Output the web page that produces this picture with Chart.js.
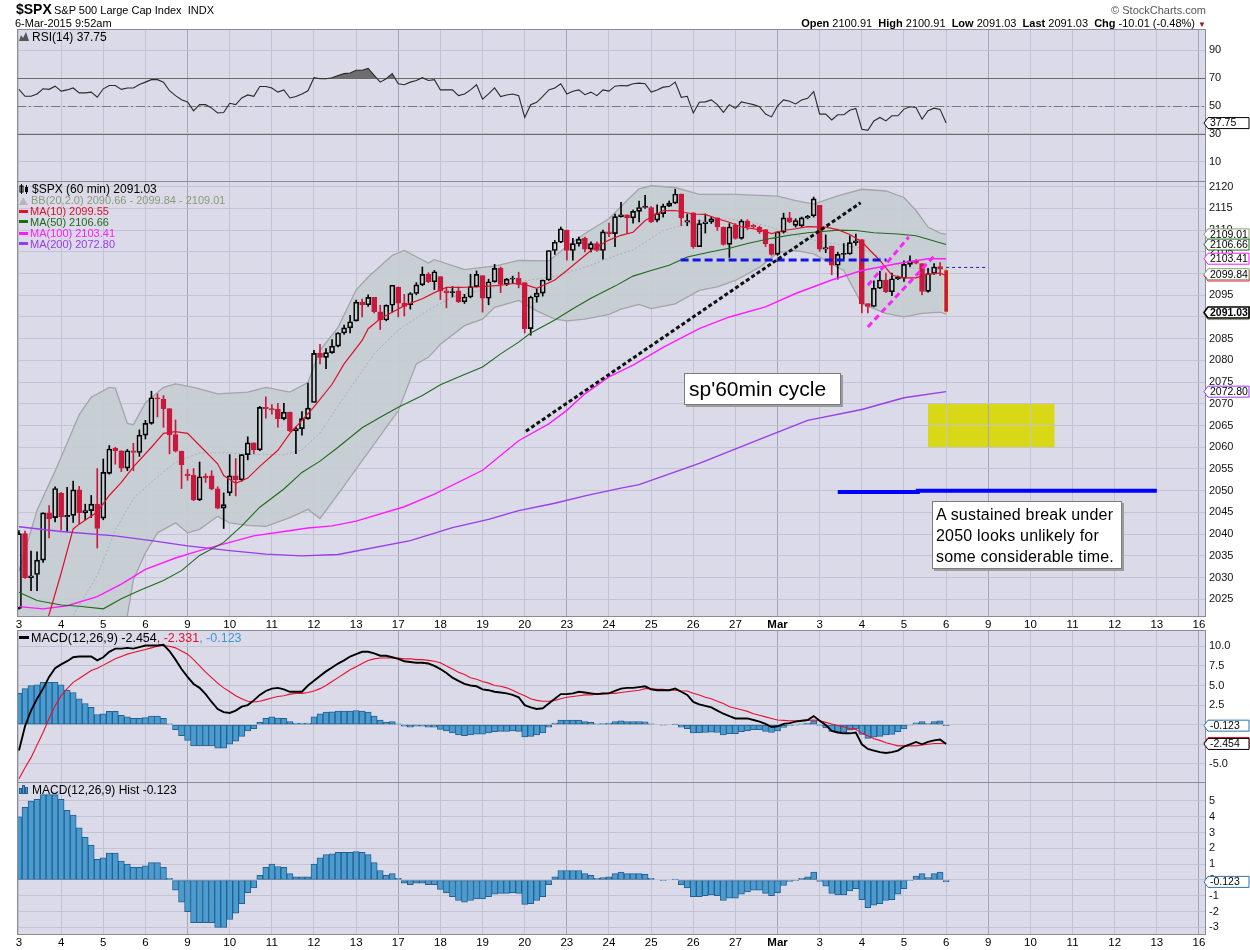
<!DOCTYPE html>
<html>
<head>
<meta charset="utf-8">
<title>$SPX 60 min</title>
<script src="https://cdn.jsdelivr.net/npm/chart.js@4.4.1/dist/chart.umd.min.js"></script>
<style>
  html, body { margin: 0; padding: 0; background: #fff; }
  body { width: 1250px; height: 950px; position: relative; overflow: hidden;
         font-family: "Liberation Sans", Arial, Helvetica, sans-serif; color: #000; }
  canvas { position: absolute; left: 0; top: 0; }
  .t { position: absolute; white-space: nowrap; font-size: 11px; line-height: 13px; z-index: 5; }
  .lg { position: absolute; white-space: nowrap; font-size: 11px; line-height: 12px; z-index: 5; left: 19px; }
  .lg i { display: inline-block; width: 9px; height: 3px; vertical-align: middle; margin-right: 2px; position: relative; top: -1px; }
  .lg svg { vertical-align: middle; margin-right: 3px; position: relative; top: -1px; }
  .box { position: absolute; z-index: 6; background: #fff; border: 1px solid #7a7a7a;
         box-shadow: 2px 2px 0 #9c9c9c; box-sizing: border-box; white-space: nowrap; }
</style>
</head>
<body>
<canvas id="cRsi" width="1250" height="950"></canvas>
<canvas id="cPrice" width="1250" height="950"></canvas>
<canvas id="cMacd" width="1250" height="950"></canvas>
<canvas id="cHist" width="1250" height="950"></canvas>

<!-- header -->
<div class="t" style="left:16px;top:1px;font-size:14px;line-height:16px;font-weight:bold">$SPX</div>
<div class="t" style="left:54px;top:4px">S&amp;P 500 Large Cap Index&nbsp; INDX</div>
<div class="t" style="left:15px;top:17px">6-Mar-2015 9:52am</div>
<div class="t" style="right:44px;top:4px;color:#555">&copy; StockCharts.com</div>
<div class="t" style="right:44px;top:17px"><b>Open</b> 2100.91&nbsp; <b>High</b> 2100.91&nbsp; <b>Low</b> 2091.03&nbsp; <b>Last</b> 2091.03&nbsp; <b>Chg</b> -10.01 (-0.48%) <span style="color:#8b1a1a;font-size:8px">&#9660;</span></div>

<!-- panel legends -->
<div class="lg" style="top:30px;font-size:12px;line-height:14px"><svg width="10" height="9"><path d="M0 9 L2 3 L4 6 L7 0 L10 9 Z" fill="#555"/></svg>RSI(14) 37.75</div>
<div class="lg" style="top:182px;font-size:12px;line-height:14px"><svg width="10" height="10"><rect x="1" y="2" width="3" height="6" fill="none" stroke="#000"/><line x1="2.5" y1="0" x2="2.5" y2="10" stroke="#000"/><rect x="6" y="3" width="3" height="5" fill="#000"/><line x1="7.5" y1="1" x2="7.5" y2="10" stroke="#000"/></svg>$SPX (60 min) 2091.03</div>
<div class="lg" style="top:194px;color:#8c9a78"><svg width="9" height="9"><path d="M0 9 L4 1 L9 9 Z" fill="#b4b8bc"/></svg>BB(20,2.0) 2090.66 - 2099.84 - 2109.01</div>
<div class="lg" style="top:205px;color:#e0102a"><i style="background:#e0102a"></i>MA(10) 2099.55</div>
<div class="lg" style="top:215.5px;color:#1f6a1a"><i style="background:#1f6a1a"></i>MA(50) 2106.66</div>
<div class="lg" style="top:227px;color:#ff1aff"><i style="background:#ff1aff"></i>MA(100) 2103.41</div>
<div class="lg" style="top:237.5px;color:#9a3ceb"><i style="background:#9a3ceb"></i>MA(200) 2072.80</div>
<div class="lg" style="top:631px;font-size:12.5px;line-height:14px"><i style="background:#000;width:10px"></i>MACD(12,26,9) -2.454<span style="color:#e0102a">, -2.331</span><span style="color:#3d9ad6">, -0.123</span></div>
<div class="lg" style="top:782.5px;font-size:12px;line-height:14px"><svg width="10" height="10"><rect x="0.5" y="4.5" width="2" height="5" fill="#4c9bd0" stroke="#22618f" stroke-width="1"/><rect x="3.5" y="1.5" width="2" height="8" fill="#4c9bd0" stroke="#22618f" stroke-width="1"/><rect x="6.5" y="3.5" width="2" height="6" fill="#4c9bd0" stroke="#22618f" stroke-width="1"/></svg>MACD(12,26,9) Hist -0.123</div>

<!-- annotations -->
<div class="box" style="left:684px;top:373px;width:157px;height:32px;font-size:21px;line-height:30px;padding-left:4px">sp'60min cycle</div>
<div class="box" style="left:932px;top:501px;width:190px;height:68px;font-size:16px;line-height:21px;padding:2px 0 0 3px;letter-spacing:0.2px">A sustained break under<br>2050 looks unlikely for<br>some considerable time.</div>

<script>
// ---------- data (one bar per trading hour, Feb 3 2015 09:30 = bar 0) ----------
const dayLabels = ['3','4','5','6','9','10','11','12','13','17','18','19','20','23','24','25','26','27',
                   'Mar','3','4','5','6','9','10','11','12','13','16'];
const barsPerDay = 7;
const weekStarts = [4, 9, 13, 18, 23, 28];

const opens = [
  2022.9, 2040.1, 2030.0, 2030.7, 2034.0, 2044.9, 2043.8,
  2049.4, 2044.0, 2044.3, 2050.2, 2044.9, 2045.4, 2046.9,
  2043.7, 2054.0, 2059.8, 2059.2, 2055.2, 2059.2, 2058.8,
  2062.8, 2065.5, 2071.4, 2071.1, 2068.9, 2062.9, 2059.1,
  2053.8, 2053.6, 2047.9, 2053.3, 2053.4, 2050.4, 2046.0,
  2049.5, 2053.4, 2052.5, 2058.3, 2061.0, 2059.4, 2069.2,
  2068.9, 2068.8, 2066.6, 2068.1, 2063.8, 2064.3, 2066.6,
  2070.3, 2081.6, 2080.7, 2081.8, 2083.3, 2086.3, 2087.5,
  2089.1, 2093.4, 2092.8, 2094.5, 2091.2, 2089.3, 2092.7,
  2096.9, 2093.2, 2092.8, 2095.4, 2097.4, 2099.8, 2098.1,
  2099.3, 2096.0, 2095.6, 2096.0, 2093.5, 2094.6, 2097.0,
  2099.5, 2094.3, 2098.1, 2101.2, 2097.5, 2098.7, 2098.9,
  2097.9, 2087.3, 2094.6, 2095.5, 2098.5, 2105.3, 2107.2,
  2110.0, 2105.3, 2106.9, 2108.1, 2105.6, 2106.9, 2105.3,
  2109.6, 2109.2, 2113.1, 2113.5, 2112.8, 2114.3, 2115.2,
  2115.2, 2112.3, 2113.8, 2115.5, 2116.2, 2118.3, 2111.8,
  2114.0, 2106.2, 2111.5, 2111.9, 2112.8, 2110.7, 2106.7,
  2111.1, 2108.1, 2112.1, 2111.1, 2110.7, 2110.1, 2106.8,
  2104.4, 2109.5, 2112.8, 2111.1, 2111.0, 2112.8, 2113.3,
  2115.7, 2105.6, 2106.3, 2101.9, 2104.4, 2104.5, 2107.1,
  2107.8, 2093.1, 2092.4, 2096.6, 2098.5, 2095.8, 2098.8,
  2098.9, 2102.1, 2102.9, 2102.3, 2095.9, 2100.0, 2101.6,
  2100.91
];
const highs = [
  2040.8, 2040.7, 2036.1, 2035.9, 2044.9, 2046.6, 2050.9,
  2049.6, 2050.8, 2052.2, 2051.0, 2046.9, 2048.9, 2055.1,
  2057.3, 2060.4, 2060.0, 2059.2, 2059.5, 2060.9, 2064.0,
  2066.2, 2072.9, 2072.3, 2071.9, 2068.9, 2066.3, 2059.1,
  2054.9, 2055.1, 2056.6, 2053.9, 2054.6, 2050.9, 2049.5,
  2058.3, 2057.4, 2058.3, 2062.4, 2061.0, 2069.4, 2071.6,
  2069.8, 2070.1, 2070.1, 2068.1, 2064.7, 2068.2, 2074.8,
  2082.3, 2083.7, 2082.7, 2084.8, 2086.4, 2088.1, 2090.4,
  2093.9, 2094.1, 2095.1, 2094.5, 2092.7, 2092.8, 2097.3,
  2096.9, 2095.2, 2095.6, 2097.9, 2101.5, 2100.2, 2100.7,
  2099.3, 2096.8, 2097.0, 2096.9, 2095.2, 2099.8, 2100.6,
  2099.5, 2098.7, 2102.1, 2101.5, 2098.9, 2099.4, 2100.3,
  2097.9, 2094.8, 2096.4, 2098.5, 2105.3, 2107.6, 2110.7,
  2110.0, 2108.1, 2108.4, 2108.4, 2107.3, 2107.3, 2110.0,
  2111.6, 2113.7, 2116.4, 2113.5, 2114.6, 2116.7, 2118.0,
  2115.4, 2115.8, 2116.0, 2116.7, 2119.4, 2118.3, 2113.7,
  2114.0, 2112.3, 2113.7, 2113.0, 2112.8, 2110.7, 2111.5,
  2111.5, 2112.4, 2112.4, 2111.3, 2110.9, 2110.1, 2106.8,
  2109.6, 2113.9, 2114.1, 2112.6, 2113.0, 2113.4, 2117.6,
  2115.7, 2108.9, 2106.3, 2104.9, 2106.9, 2108.7, 2109.1,
  2107.8, 2093.1, 2098.3, 2100.5, 2100.1, 2100.1, 2099.4,
  2102.9, 2104.1, 2103.2, 2102.3, 2101.2, 2102.3, 2102.5,
  2100.91
];
const lows = [
  2022.7, 2029.8, 2027.0, 2027.0, 2033.5, 2039.1, 2042.8,
  2040.9, 2040.6, 2042.7, 2042.4, 2043.3, 2043.8, 2036.8,
  2043.3, 2053.8, 2056.1, 2054.4, 2054.6, 2054.6, 2057.9,
  2061.9, 2065.3, 2067.0, 2064.6, 2058.5, 2058.9, 2050.5,
  2052.4, 2047.7, 2047.7, 2051.9, 2050.2, 2045.8, 2041.3,
  2048.9, 2048.8, 2052.2, 2057.1, 2058.5, 2059.2, 2066.7,
  2067.6, 2064.6, 2066.3, 2063.6, 2058.5, 2062.8, 2066.4,
  2070.3, 2079.2, 2078.1, 2081.6, 2083.1, 2086.0, 2086.3,
  2089.0, 2090.0, 2092.4, 2090.9, 2087.1, 2089.1, 2091.1,
  2090.0, 2090.2, 2091.8, 2095.1, 2097.2, 2097.9, 2096.3,
  2094.0, 2092.1, 2094.6, 2093.3, 2093.1, 2094.4, 2096.9,
  2091.1, 2092.8, 2098.0, 2095.6, 2097.2, 2097.8, 2096.7,
  2086.3, 2085.8, 2093.4, 2094.8, 2098.4, 2104.4, 2107.1,
  2103.1, 2103.1, 2106.3, 2105.0, 2105.0, 2105.1, 2103.3,
  2108.5, 2106.2, 2113.0, 2109.3, 2111.6, 2111.9, 2115.0,
  2111.7, 2111.9, 2113.0, 2115.4, 2116.1, 2111.0, 2111.0,
  2105.8, 2106.2, 2109.3, 2111.5, 2109.9, 2106.5, 2103.7,
  2107.9, 2107.9, 2110.1, 2110.5, 2109.2, 2106.2, 2104.2,
  2104.2, 2109.3, 2111.7, 2110.7, 2110.7, 2112.6, 2113.0,
  2105.1, 2104.8, 2099.7, 2098.7, 2103.4, 2104.4, 2106.5,
  2090.9, 2090.9, 2092.3, 2096.5, 2095.6, 2094.9, 2098.6,
  2098.2, 2101.6, 2102.2, 2095.1, 2095.7, 2099.8, 2099.5,
  2091.03
];
const closes = [
  2040.1, 2030.0, 2030.4, 2034.0, 2044.9, 2043.5, 2050.5,
  2044.0, 2044.3, 2050.2, 2044.9, 2045.4, 2046.9, 2041.3,
  2054.2, 2059.6, 2059.2, 2055.2, 2059.2, 2058.8, 2062.8,
  2065.5, 2071.4, 2071.1, 2068.9, 2062.9, 2059.1, 2056.0,
  2053.4, 2047.9, 2053.2, 2053.0, 2050.4, 2046.0, 2046.8,
  2053.4, 2052.5, 2058.3, 2061.0, 2059.4, 2069.2, 2068.9,
  2068.6, 2066.6, 2068.1, 2063.8, 2064.3, 2066.6, 2069.0,
  2081.6, 2080.7, 2081.8, 2083.3, 2086.3, 2087.5, 2088.9,
  2093.4, 2092.8, 2094.5, 2091.2, 2089.3, 2092.7, 2097.3,
  2093.2, 2092.4, 2095.4, 2097.4, 2099.8, 2098.1, 2100.4,
  2096.0, 2095.6, 2095.8, 2093.5, 2094.6, 2097.0, 2099.8,
  2094.3, 2098.1, 2101.2, 2097.5, 2098.7, 2098.9, 2097.5,
  2087.3, 2094.6, 2095.5, 2098.5, 2105.3, 2107.2, 2110.3,
  2105.3, 2106.9, 2107.9, 2105.6, 2106.9, 2105.3, 2109.6,
  2109.2, 2113.1, 2113.5, 2112.8, 2114.3, 2115.2, 2115.5,
  2111.9, 2113.8, 2115.5, 2116.2, 2118.3, 2112.8, 2112.2,
  2106.2, 2111.5, 2111.9, 2112.6, 2110.7, 2106.7, 2110.7,
  2108.1, 2112.1, 2110.7, 2110.7, 2109.6, 2106.8, 2104.4,
  2109.6, 2112.8, 2111.9, 2112.2, 2112.8, 2113.2, 2117.2,
  2105.6, 2106.0, 2101.9, 2104.4, 2104.6, 2107.1, 2107.5,
  2093.0, 2092.4, 2096.6, 2098.5, 2095.8, 2098.8, 2099.1,
  2102.1, 2102.9, 2102.4, 2095.9, 2100.0, 2101.5, 2101.0,
  2091.03
];

// overlays: [bar, value]
const ma10 = [[3,2013.2],[5,2021.5],[7,2031.0],[9,2041.2],[10,2042.3],[13,2045.1],[15,2048.9],[17,2051.9],
  [19,2055.5],[22,2060.0],[24,2063.2],[26,2063.6],[28,2063.2],[30,2060.4],[33,2056.2],[34,2053.5],[36,2051.7],
  [38,2052.9],[40,2055.6],[43,2059.3],[45,2063.2],[47,2066.2],[49,2069.3],[52,2074.5],[54,2079.2],[57,2084.6],
  [58,2087.3],[60,2089.6],[62,2091.1],[64,2092.6],[67,2094.2],[69,2095.6],[71,2096.8],[73,2096.8],[76,2096.9],
  [78,2097.1],[80,2097.3],[82,2097.7],[84,2097.5],[86,2096.6],[89,2098.5],[91,2100.7],[93,2103.0],[95,2105.3],
  [98,2107.7],[100,2108.8],[102,2109.5],[104,2112.2],[107,2114.5],[109,2114.5],[112,2113.7],[114,2113.6],
  [116,2112.6],[118,2111.8],[120,2110.7],[123,2110.1],[125,2109.2],[127,2109.9],[129,2110.3],[131,2110.8],
  [134,2110.7],[136,2110.1],[138,2109.0],[140,2107.3],[143,2103.0],[145,2099.6],[147,2099.0],[149,2099.0],
  [151,2099.8],[153,2100.1],[154,2099.55]];
const ma50 = [[0,2026.6],[3,2024.7],[7,2023.7],[10,2023.4],[14,2022.8],[17,2025.1],[20,2027.0],[24,2029.3],
  [27,2031.6],[30,2035.1],[34,2038.1],[37,2041.9],[40,2046.2],[44,2050.4],[47,2054.2],[50,2056.8],[53,2060.0],
  [57,2064.5],[60,2066.9],[63,2069.2],[67,2071.9],[70,2074.4],[73,2076.2],[77,2078.5],[80,2081.5],[83,2084.2],
  [85,2086.3],[89,2089.3],[92,2091.9],[95,2094.3],[99,2097.1],[102,2099.4],[105,2100.7],[108,2101.9],
  [111,2103.8],[115,2105.0],[118,2105.8],[121,2106.9],[125,2108.1],[128,2108.8],[131,2109.4],[133,2109.6],
  [136,2110.0],[139,2109.9],[142,2109.4],[146,2109.1],[149,2108.7],[154,2106.66]];
const ma100 = [[0,2023.3],[4,2022.8],[8,2023.5],[13,2025.6],[17,2028.5],[21,2031.9],[26,2034.5],[30,2036.2],
  [35,2038.1],[39,2039.6],[44,2040.6],[48,2041.4],[52,2041.9],[56,2043.0],[64,2046.3],[69,2049.2],[77,2054.7],
  [83,2061.5],[88,2065.4],[91,2068.5],[94,2072.3],[98,2076.2],[102,2078.9],[107,2083.0],[113,2087.3],
  [118,2090.0],[124,2092.3],[129,2095.4],[135,2098.5],[140,2100.7],[146,2102.3],[151,2103.4],[154,2103.41]];
const ma200 = [[0,2041.7],[7,2040.6],[16,2039.6],[22,2038.5],[28,2037.3],[35,2036.2],[41,2035.4],[47,2035.0],
  [53,2035.3],[65,2038.5],[72,2041.5],[78,2043.4],[83,2045.4],[89,2047.1],[94,2048.8],[100,2050.6],[103,2051.4],
  [113,2056.3],[123,2061.8],[131,2066.2],[140,2068.7],[147,2071.4],[154,2072.8]];
const bbUpper = [[0,2031.5],[3,2045.5],[6,2054.5],[8,2061.0],[10,2067.5],[12,2071.5],[15,2073.8],[16,2073.6],
  [18,2065.5],[19,2065.2],[21,2070.2],[24,2073.8],[26,2074.6],[29,2073.8],
  [33,2072.3],[38,2072.7],[41,2073.8],[45,2072.7],[48,2074.9],[50,2082.3],[53,2087.6],[56,2096.2],[58,2099.2],
  [62,2104.2],[64,2105.3],[68,2102.4],[69,2103.2],[74,2100.9],[77,2101.4],[79,2101.7],[83,2103.0],[88,2102.9],
  [91,2106.2],[94,2109.2],[98,2112.6],[101,2116.8],[103,2119.5],[105,2120.2],[109,2119.8],[113,2118.2],
  [119,2118.2],[126,2117.8],[129,2116.8],[132,2116.0],[136,2117.9],[140,2119.4],[144,2119.0],[147,2117.5],
  [149,2114.5],[151,2110.7],[153,2109.3],[154,2109.01]];
const bbLower = [[0,2000.0],[14,2005.0],[17,2018.2],[18,2021.2],[19,2029.5],[21,2035.7],[23,2040.3],[26,2042.6],
  [28,2040.3],[30,2041.1],[33,2044.1],[35,2042.6],[38,2042.0],[41,2041.8],[45,2043.8],[48,2045.7],[50,2043.6],
  [53,2049.2],[57,2056.9],[63,2068.4],[66,2079.2],[68,2080.7],[70,2083.7],[74,2088.0],[77,2089.5],[79,2092.2],
  [83,2093.8],[86,2091.4],[89,2089.5],[91,2089.1],[94,2089.5],[98,2090.6],[100,2091.8],[103,2092.9],
  [105,2091.9],[109,2093.0],[113,2096.1],[116,2096.9],[119,2098.4],[123,2101.4],[126,2104.8],[129,2105.3],
  [132,2104.5],[135,2102.2],[137,2100.7],[140,2093.0],[144,2090.8],[147,2090.0],[150,2090.8],[153,2091.1],
  [154,2090.66]];
const bbMid = [[9,2021.3],[13,2030.5],[16,2040.9],[19,2048.2],[23,2053.2],[26,2056.5],[30,2058.7],[35,2058.7],
  [39,2058.3],[44,2058.3],[47,2059.4],[50,2063.3],[54,2071.6],[59,2081.5],[63,2087.0],[68,2091.6],[72,2094.6],
  [78,2096.6],[83,2098.1],[89,2099.4],[94,2101.4],[100,2104.6],[102,2105.4],[107,2109.9],[113,2112.2],
  [118,2112.6],[124,2111.1],[128,2109.2],[132,2107.7],[137,2106.5],[140,2105.8],[144,2103.0],[147,2101.5],
  [151,2100.9],[154,2099.84]];

// drawn annotations: [bar, price]
const trendLine = [[84.2, 2063.7], [139.8, 2116.3]];
const shelfLine = [[109.9, 2103.1], [144.1, 2103.1]];
const lastOpenLine = [[154, 2101.4], [161, 2101.4]];
const channelTop = [[141, 2097.3], [147.8, 2108.4]];
const channelBottom = [[141, 2087.7], [152, 2104.0]];
const floorLine = [[136, 2049.7], [149.3, 2049.7], [149.3, 2050.0], [189, 2050.0]];
const zoneBars = [151, 172];
const zonePrices = [2060, 2070];

const rsi = [
  62, 57, 57, 58.7, 62.4, 62, 64.3, 60.7, 61.6, 63,
  59.5, 59.5, 60, 56.3, 62.4, 64.8, 64.8, 62, 63, 63,
  65.5, 67.2, 69, 69, 67.2, 61, 57.5, 54.6, 53, 46.6,
  51, 51, 48.5, 45, 45.4, 52, 51, 55.8, 58, 57,
  64, 64, 63, 60, 61.6, 55.8, 56.8, 58.7, 61, 70.4,
  69.6, 69.6, 70.4, 72, 73.3, 73.8, 75.7, 75.7, 77, 72,
  67.2, 69.6, 73.3, 66, 65.3, 67.2, 68.4, 70.4, 68.4, 69,
  61.6, 61.6, 61.6, 57.5, 58.7, 61.6, 65.3, 55, 58.7, 63,
  56.8, 58, 58.7, 57.5, 41.8, 51, 52.7, 57, 61.6, 63,
  66, 58.7, 60.7, 61.6, 58.2, 60, 57.5, 61.6, 60.7, 64.3,
  64.8, 64.5, 66, 66.5, 66, 60, 61.6, 63.6, 64, 67.2,
  56.3, 57, 45, 52.7, 53, 54.4, 51, 45.4, 51, 48.3,
  53, 52, 51, 49.5, 44.2, 42.2, 50.2, 54.4, 53.4, 51.5,
  54.4, 55.6, 60.4, 44.2, 44.2, 40, 43.7, 43.7, 47, 48.3,
  33.3, 32.5, 39.3, 41.8, 39.3, 43, 43, 47.8, 49.5, 49,
  40.5, 46.6, 48.5, 47.6, 37.75
];
const macdLine = [
  -3.3, -0.2, 1.8, 3.3, 4.6, 6.1, 7.2, 7.7, 8.1, 8.6,
  8.7, 8.7, 8.7, 8.2, 8.6, 9.3, 9.7, 9.7, 9.8, 9.7,
  9.9, 10.1, 10.1, 10.1, 10.2, 9.4, 8.3, 7.1, 6.1, 5.2,
  4.7, 3.9, 2.9, 2.0, 1.6, 1.5, 1.8, 2.3, 2.5, 3.1,
  3.8, 4.3, 4.6, 4.7, 4.5, 4.2, 4.2, 4.2, 5.0, 5.6,
  6.2, 6.8, 7.3, 7.8, 8.2, 8.7, 9.0, 9.3, 9.3, 9.1,
  8.8, 8.8, 8.6, 8.4, 8.1, 8.0, 7.9, 7.9, 7.8, 7.5,
  7.1, 6.6, 6.0, 5.6, 5.2, 5.0, 4.9, 4.5, 4.4, 4.2,
  4.1, 4.0, 3.8, 3.5, 2.5, 2.2, 2.0, 2.1, 2.7, 3.3,
  3.9, 3.9, 4.0, 4.2, 4.1, 4.0, 3.9, 4.0, 4.0, 4.3,
  4.6, 4.7, 4.7, 4.8, 4.9, 4.5, 4.4, 4.4, 4.4, 4.6,
  4.2, 3.8, 2.9, 2.6, 2.4, 2.2, 1.8, 1.4, 1.1, 0.8,
  0.8, 0.8, 0.6, 0.4, 0.1, -0.3, -0.2, 0.1, 0.2, 0.4,
  0.5, 0.6, 1.1, 0.5, -0.05, -0.8, -1.0, -1.1, -1.1, -1.0,
  -2.5, -3.1, -3.3, -3.5, -3.6, -3.5, -3.3, -2.8, -2.5, -2.2,
  -2.5, -2.2, -2.0, -1.9, -2.454
];
const macdSignal = [
  -6.9, -5.5, -4.2, -2.6, -1.0, 0.8, 2.4, 3.7, 4.6, 5.4,
  5.9, 6.4, 6.9, 7.2, 7.6, 8.0, 8.4, 8.7, 9.0, 9.2,
  9.4, 9.6, 9.8, 10.0, 10.1, 10.0, 9.8, 9.4, 9.0, 8.3,
  7.5, 6.7, 6.0, 5.3, 4.7, 4.2, 3.7, 3.3, 3.0, 2.9,
  3.0, 3.2, 3.4, 3.6, 3.7, 3.9, 4.0, 4.0, 4.1, 4.3,
  4.6, 5.0, 5.5, 6.0, 6.5, 7.0, 7.4, 7.8, 8.2, 8.4,
  8.5, 8.5, 8.5, 8.5, 8.4, 8.4, 8.3, 8.3, 8.2, 8.1,
  7.9, 7.5, 7.1, 6.7, 6.4, 6.0, 5.8, 5.5, 5.3, 5.0,
  4.9, 4.7, 4.4, 4.0, 3.7, 3.3, 3.1, 3.0, 3.0, 3.1,
  3.3, 3.5, 3.6, 3.7, 3.8, 3.8, 3.9, 3.9, 4.0, 4.0,
  4.1, 4.2, 4.3, 4.4, 4.6, 4.6, 4.5, 4.5, 4.4, 4.4,
  4.3, 4.3, 4.0, 3.8, 3.5, 3.3, 3.0, 2.7, 2.3, 2.1,
  1.9, 1.7, 1.4, 1.2, 1.0, 0.8, 0.6, 0.55, 0.5, 0.5,
  0.5, 0.55, 0.6, 0.5, 0.3, 0.1, -0.1, -0.3, -0.5, -0.6,
  -1.1, -1.4, -1.8, -2.0, -2.3, -2.5, -2.7, -2.7, -2.7, -2.7,
  -2.6, -2.5, -2.4, -2.4, -2.331
];
const macdHist = [
  4.0, 4.6, 5.0, 5.1, 5.4, 5.4, 5.4, 5.1, 4.4, 4.1,
  3.3, 2.7, 2.2, 1.3, 1.4, 1.7, 1.7, 1.2, 1.0, 0.8,
  0.8, 0.9, 1.1, 1.1, 0.8, 0.1, -0.65, -1.4, -2.0, -2.7,
  -2.7, -2.7, -2.7, -3.0, -3.0, -2.5, -2.1, -1.5, -0.8, -0.5,
  0.3, 0.8, 1.0, 0.85, 0.8, 0.4, 0.2, 0.2, 0.2, 1.0,
  1.4, 1.6, 1.65, 1.75, 1.75, 1.75, 1.8, 1.75, 1.6, 1.1,
  0.6, 0.3, 0.4, 0.1, -0.2, -0.3, -0.2, -0.2, -0.3, -0.3,
  -0.6, -0.8, -1.05, -1.3, -1.4, -1.3, -1.2, -1.2, -1.05, -0.9,
  -0.85, -0.85, -0.8, -0.85, -1.55, -1.5, -1.3, -1.05, -0.3, 0.2,
  0.6, 0.6, 0.6, 0.6, 0.4, 0.3, 0.1, 0.15, 0.2, 0.4,
  0.5, 0.4, 0.4, 0.4, 0.35, 0.1, 0.0, -0.05, 0.0, 0.05,
  -0.3, -0.5, -1.05, -1.05, -1.0, -0.95, -1.0, -1.3, -1.15, -1.15,
  -0.9, -0.75, -0.65, -0.65, -0.85, -1.0, -0.8, -0.35, -0.1, -0.05,
  0.1, 0.2, 0.5, -0.1, -0.4, -0.85, -0.95, -0.95, -0.7, -0.55,
  -1.25, -1.75, -1.6, -1.5, -1.3, -1.25, -0.9, -0.55, -0.05, 0.25,
  0.4, 0.15, 0.4, 0.5, -0.123
];

const rsiTicks = [10, 30, 50, 70, 90];
const priceTicks = [2025, 2030, 2035, 2040, 2045, 2050, 2055, 2060, 2065, 2070, 2075, 2080,
                    2085, 2090, 2095, 2100, 2105, 2110, 2115, 2120];
const macdTicks = [-5, -2.5, 0, 2.5, 5, 7.5, 10];
const histTicks = [-3, -2, -1, 0, 1, 2, 3, 4, 5];

// ---------- look ----------
const FONT = '"Liberation Sans", Arial, Helvetica, sans-serif';
const PLOT_BG = '#dadae8';
const GRID = '#c3c3d3';
const GRID_WEEK = '#a6a6b9';
const RED = '#c8193c';
const HIST_FILL = '#4c9bd0';
const HIST_EDGE = '#22618f';
const X_MIN = -0.33, X_MAX = 197;

Chart.defaults.font.family = FONT;

const pts = (pairs) => pairs.map(([x, y]) => ({ x, y }));
const series = (arr) => arr.map((y, x) => ({ x, y }));
const last = (arr) => arr[arr.length - 1];

function xScale(showLabels) {
  return {
    type: 'linear', min: X_MIN, max: X_MAX, offset: false,
    afterBuildTicks: (s) => { s.ticks = dayLabels.map((_, k) => ({ value: k * barsPerDay })); },
    afterFit: (s) => { s.height = showLabels ? 16 : 0; s.paddingLeft = 0; s.paddingRight = 0; },
    grid: { offset: false, drawTicks: false, lineWidth: 1,
            color: (c) => weekStarts.includes(c.index) ? GRID_WEEK : GRID },
    border: { display: false },
    ticks: {
      display: showLabels, autoSkip: false, maxRotation: 0, padding: 2, color: '#000',
      font: (c) => ({ family: FONT, size: 11.5,
                      weight: c.tick && c.tick.label === 'Mar' ? 'bold' : 'normal' }),
      callback: (v) => dayLabels[Math.round(v / barsPerDay)]
    }
  };
}

function yScale(min, max, tickValues, fmt) {
  return {
    position: 'right', min, max,
    afterBuildTicks: (s) => { s.ticks = tickValues.map((v) => ({ value: v })); },
    afterFit: (s) => { s.width = 45; s.paddingTop = 0; s.paddingBottom = 0; },
    grid: { color: GRID, drawTicks: false },
    border: { display: false },
    ticks: { padding: 4, color: '#111', font: { family: FONT, size: 11 }, callback: fmt }
  };
}

function drawTag(ctx, x, y, text, color, bold) {
  const h = 11, left = x + 3, w = 41;
  ctx.beginPath();
  ctx.moveTo(x - 1, y);
  ctx.lineTo(left, y - h / 2);
  ctx.lineTo(left + w, y - h / 2);
  ctx.lineTo(left + w, y + h / 2);
  ctx.lineTo(left, y + h / 2);
  ctx.closePath();
  ctx.fillStyle = '#fff';
  ctx.fill();
  ctx.strokeStyle = color;
  ctx.lineWidth = bold ? 1.6 : 1;
  ctx.stroke();
  ctx.fillStyle = '#000';
  ctx.font = (bold ? 'bold ' : '') + '10.5px ' + FONT;
  ctx.textAlign = 'left';
  ctx.textBaseline = 'middle';
  ctx.fillText(text, left + 2, y + 0.5);
}

// background, reference lines, frame and value tags of each panel
const panelPlugin = {
  id: 'panel',
  beforeDraw(chart, args, opts) {
    const { ctx, chartArea: a } = chart;
    ctx.save();
    ctx.fillStyle = PLOT_BG;
    ctx.fillRect(a.left, a.top, a.right - a.left, a.bottom - a.top);
    if (opts.zone) {
      const xs = chart.scales.x, ys = chart.scales.y;
      const x0 = xs.getPixelForValue(opts.zone.bars[0]), x1 = xs.getPixelForValue(opts.zone.bars[1]);
      const y0 = ys.getPixelForValue(opts.zone.prices[1]), y1 = ys.getPixelForValue(opts.zone.prices[0]);
      ctx.fillStyle = '#d8d816';
      ctx.fillRect(x0, y0, x1 - x0, y1 - y0);
    }
    ctx.restore();
  },
  beforeDatasetsDraw(chart, args, opts) {
    const { ctx, chartArea: a } = chart;
    const ys = chart.scales.y;
    (opts.refs || []).forEach((r) => {
      const y = Math.round(ys.getPixelForValue(r.value)) + 0.5;
      ctx.save();
      ctx.strokeStyle = r.color;
      ctx.lineWidth = 1;
      ctx.setLineDash(r.dash || []);
      ctx.beginPath();
      ctx.moveTo(a.left, y);
      ctx.lineTo(a.right, y);
      ctx.stroke();
      ctx.restore();
    });
  },
  afterDraw(chart, args, opts) {
    const { ctx, chartArea: a } = chart;
    const ys = chart.scales.y;
    ctx.save();
    ctx.strokeStyle = '#8a8a98';
    ctx.lineWidth = 1;
    ctx.strokeRect(Math.round(a.left) + 0.5, Math.round(a.top) + 0.5,
                   Math.round(a.right - a.left), Math.round(a.bottom - a.top));
    (opts.tags || []).forEach((t) => {
      drawTag(ctx, a.right, ys.getPixelForValue(t.value), t.text, t.color, t.bold);
    });
    ctx.restore();
  }
};

function baseOptions(padding, showX, y, panel) {
  return {
    responsive: false, animation: false, events: [],
    layout: { padding },
    elements: { point: { radius: 0 }, line: { tension: 0 } },
    plugins: { legend: { display: false }, tooltip: { enabled: false }, panel },
    scales: { x: xScale(showX), y }
  };
}

function lineSet(data, color, width, extra) {
  return Object.assign({ type: 'line', data, borderColor: color, borderWidth: width,
                         pointRadius: 0, fill: false }, extra || {});
}

// ---------- RSI panel ----------
new Chart(document.getElementById('cRsi'), {
  type: 'line',
  data: {
    datasets: [lineSet(series(rsi), '#2a2a2a', 1.1, {
      fill: { target: { value: 70 }, above: '#6e6e6e', below: 'rgba(0,0,0,0)' }
    })]
  },
  options: baseOptions({ left: 17, right: 0, top: 29, bottom: 769 }, false,
    yScale(-3.9, 105.4, rsiTicks, (v) => String(v)),
    {
      refs: [{ value: 70, color: '#6b6b6b' }, { value: 30, color: '#6b6b6b' },
             { value: 50, color: '#777', dash: [9, 3, 2, 3] }],
      tags: [{ value: last(rsi), text: last(rsi).toFixed(2), color: '#000' }]
    }),
  plugins: [panelPlugin]
});

// ---------- price panel ----------
const isUp = closes.map((c, i) => c >= opens[i]);
const lastIdx = closes.length - 1;
const bodies = opens.map((o, i) => ({ x: i, y: [o, closes[i]] }));
const upperWicks = opens.map((o, i) => ({ x: i, y: [Math.max(o, closes[i]), highs[i]] }));
const lowerWicks = opens.map((o, i) => ({ x: i, y: [lows[i], Math.min(o, closes[i])] }));
const wickColors = isUp.map((u) => (u ? '#000' : RED));

new Chart(document.getElementById('cPrice'), {
  type: 'bar',
  data: {
    datasets: [
      lineSet(pts(bbUpper), '#a4a4ab', 1.3, { fill: '+1', backgroundColor: 'rgba(197,206,211,0.92)', order: 30 }),
      lineSet(pts(bbLower), '#a4a4ab', 1.3, { order: 29 }),
      lineSet(pts(bbMid), '#aeaeb8', 1, { borderDash: [2, 2], order: 28 }),
      { type: 'bar', data: upperWicks, backgroundColor: wickColors, borderWidth: 0,
        barThickness: 1, grouped: false, order: 20 },
      { type: 'bar', data: lowerWicks, backgroundColor: wickColors, borderWidth: 0,
        barThickness: 1, grouped: false, order: 20 },
      { type: 'bar', data: bodies, grouped: false, order: 19, barThickness: 5, minBarLength: 1,
        borderWidth: 1, borderSkipped: false,
        backgroundColor: isUp.map((u) => (u ? 'rgba(0,0,0,0)' : RED)),
        borderColor: isUp.map((u, i) => (i === lastIdx ? '#ece27a' : (u ? '#000' : RED))) },
      lineSet(pts(ma200), '#9a3ceb', 1.4, { order: 10 }),
      lineSet(pts(ma100), '#ff1aff', 1.4, { order: 9 }),
      lineSet(pts(ma50), '#1f6a1a', 1.1, { order: 8 }),
      lineSet(pts(ma10), '#e0102a', 1.2, { order: 7 }),
      lineSet(pts(trendLine), '#111', 3, { borderDash: [4, 2.5], order: 3 }),
      lineSet(pts(shelfLine), '#1414e6', 3, { borderDash: [8, 4], order: 3 }),
      lineSet(pts(lastOpenLine), '#1a1acc', 1, { borderDash: [3, 3], order: 3 }),
      lineSet(pts(channelTop), '#ff22ff', 3, { borderDash: [6, 4], order: 2 }),
      lineSet(pts(channelBottom), '#ff22ff', 3, { borderDash: [6, 4], order: 2 }),
      lineSet(pts(floorLine), '#0000ff', 4, { order: 2 })
    ]
  },
  options: baseOptions({ left: 17, right: 0, top: 181, bottom: 318 }, true,
    yScale(2021.15, 2121.3, priceTicks, (v) => String(v)),
    {
      zone: { bars: zoneBars, prices: zonePrices },
      tags: [
        { value: last(bbUpper)[1], text: last(bbUpper)[1].toFixed(2), color: '#8c9c74' },
        { value: last(ma50)[1], text: last(ma50)[1].toFixed(2), color: '#1f6a1a' },
        { value: last(ma100)[1], text: last(ma100)[1].toFixed(2), color: '#ff1aff' },
        { value: last(ma10)[1], text: last(ma10)[1].toFixed(2), color: '#e0102a' },
        { value: last(bbMid)[1], text: last(bbMid)[1].toFixed(2), color: '#8c9c74' },
        { value: last(bbLower)[1], text: last(bbLower)[1].toFixed(2), color: '#8c9c74' },
        { value: last(closes), text: last(closes).toFixed(2), color: '#000', bold: true },
        { value: last(ma200)[1], text: last(ma200)[1].toFixed(2), color: '#9a3ceb' }
      ]
    }),
  plugins: [panelPlugin]
});

// ---------- MACD panel ----------
function histSet(order) {
  return { type: 'bar', data: series(macdHist), backgroundColor: HIST_FILL, borderColor: HIST_EDGE,
           borderWidth: 1, borderSkipped: false, barThickness: 6, grouped: false, order };
}

new Chart(document.getElementById('cMacd'), {
  type: 'bar',
  data: {
    datasets: [
      histSet(10),
      lineSet(series(macdSignal), '#e8102e', 1.1, { order: 2 }),
      lineSet(series(macdLine), '#000', 1.9, { order: 1 })
    ]
  },
  options: baseOptions({ left: 17, right: 0, top: 630, bottom: 168 }, false,
    yScale(-7.31, 12.08, macdTicks, (v) => v.toFixed(1)),
    {
      tags: [
        { value: last(macdHist), text: last(macdHist).toFixed(3), color: '#2f73a8' },
        { value: last(macdSignal), text: last(macdSignal).toFixed(3), color: '#e0102a' },
        { value: last(macdLine), text: last(macdLine).toFixed(3), color: '#000' }
      ]
    }),
  plugins: [panelPlugin]
});

// ---------- MACD histogram panel ----------
new Chart(document.getElementById('cHist'), {
  type: 'bar',
  data: { datasets: [histSet(1)] },
  options: baseOptions({ left: 17, right: 0, top: 782, bottom: 0 }, true,
    yScale(-3.42, 6.2, histTicks, (v) => String(v)),
    { tags: [{ value: last(macdHist), text: last(macdHist).toFixed(3), color: '#2f73a8' }] }),
  plugins: [panelPlugin]
});
</script>
</body>
</html>
